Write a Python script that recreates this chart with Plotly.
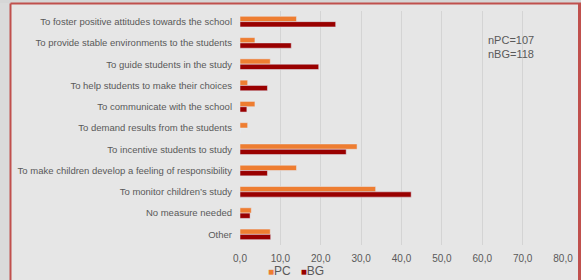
import plotly.graph_objects as go

categories = [
    "To foster positive attitudes towards the school",
    "To provide stable environments to the students",
    "To guide students in the study",
    "To help students to make their choices",
    "To communicate with the school",
    "To demand results from the students",
    "To incentive students to study",
    "To make children develop a feeling of responsibility",
    "To monitor children\u2019s study",
    "No measure needed",
    "Other",
]
series_names = ["PC", "BG"]
pc_values = [14.0, 3.7, 7.5, 1.9, 3.7, 1.9, 29.0, 14.0, 33.6, 2.8, 7.5]
bg_values = [23.7, 12.7, 19.5, 6.8, 1.7, 0.0, 26.3, 6.8, 42.4, 2.5, 7.6]
x_ticks = [0, 10, 20, 30, 40, 50, 60, 70, 80]
note_text = "nPC=107<br>nBG=118"

colors = ["#EE7D31", "#990000"]
grey = "#595959"
fig = go.Figure()
for name, vals, col in zip(series_names, [pc_values, bg_values], colors):
    fig.add_trace(go.Bar(y=categories, x=vals, name=name, orientation="h",
                         marker=dict(color=col), showlegend=False))

legend_label = "&nbsp;&nbsp;&nbsp;".join(
    f"<span style='color:{c}; font-size:10px'>\u25a0</span>{n}" for n, c in zip(series_names, colors)
)
fig.add_trace(go.Scatter(x=[None], y=[None], mode="markers", name=legend_label,
                         marker=dict(color="rgba(0,0,0,0)", size=1,
                                     line=dict(width=0, color="rgba(0,0,0,0)")),
                         showlegend=True, hoverinfo="skip"))

L, R, T, B = 240, 18, 11, 35
W, H = 581, 280
pw, ph = W - L - R, H - T - B

def px(x):
    return (x - L) / pw

def py(y):
    return 1 - (y - T) / ph

shapes = [
    dict(type="rect", xref="paper", yref="paper", x0=px(0), x1=px(10.5), y0=py(H), y1=py(0),
         fillcolor="#dadada", line=dict(width=0), layer="below"),
    dict(type="rect", xref="paper", yref="paper", x0=px(0), x1=px(W), y0=py(3), y1=py(0),
         fillcolor="#d6d6d6", line=dict(width=0), layer="below"),
    dict(type="line", xref="paper", yref="paper", x0=px(10.5), x1=px(10.5), y0=py(H), y1=py(3.5),
         line=dict(color="#c0504d", width=2)),
    dict(type="line", xref="paper", yref="paper", x0=px(10.5), x1=px(W), y0=py(3.5), y1=py(3.5),
         line=dict(color="#c0504d", width=2)),
    dict(type="line", xref="paper", yref="paper", x0=px(579.5), x1=px(579.5), y0=py(H), y1=py(3.5),
         line=dict(color="#c0504d", width=3)),
]

fig.update_layout(
    width=W, height=H,
    margin=dict(l=L, r=R, t=T, b=B, autoexpand=False),
    paper_bgcolor="#e6e6e6", plot_bgcolor="#e6e6e6",
    barmode="group", bargap=0.5, bargroupgap=0,
    separators=",.",
    font=dict(family="Liberation Sans, Arial", size=9.5, color=grey),
    showlegend=True,
    legend=dict(orientation="h", x=px(268 - 40), xanchor="left",
                y=py(270.5), yanchor="middle", font=dict(size=12, color=grey),
                bgcolor="rgba(0,0,0,0)", itemwidth=30, tracegroupgap=0),
    xaxis=dict(range=[0, 80], tickvals=x_ticks, tickformat=".1f",
               showgrid=True, gridcolor="#d4d4d4", gridwidth=1,
               zeroline=False, showline=False, ticks="", automargin=False,
               ticklabelstandoff=6,
               tickfont=dict(size=10, color=grey)),
    yaxis=dict(autorange="reversed", showgrid=False, ticks="", ticklabelstandoff=7,
               automargin=False,
               tickfont=dict(size=9.5, color=grey), showline=False),
    shapes=shapes,
    annotations=[dict(xref="x", yref="paper", x=61.0, y=py(47), text=note_text,
                      showarrow=False, xanchor="left", yanchor="middle", align="left",
                      font=dict(size=11, color=grey))],
)
fig.write_html("out.html", post_script="document.body.style.margin='0';",
               config={"displayModeBar": False})
